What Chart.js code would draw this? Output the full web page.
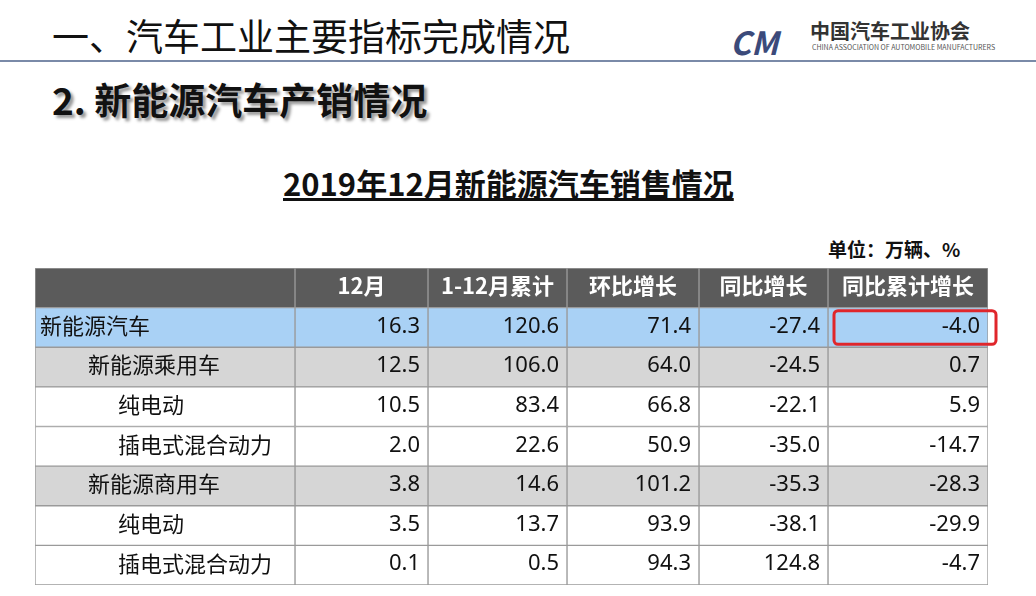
<!DOCTYPE html>
<html><head><meta charset="utf-8">
<script src="https://cdn.jsdelivr.net/npm/chart.js@4"></script>
<style>
body{margin:0;width:1036px;height:596px;background:#fff;overflow:hidden;font-family:"Noto Sans CJK SC","Noto Sans",sans-serif;position:relative}
.t{position:absolute;white-space:nowrap;color:#111}
#c{position:absolute;left:0;top:0}
</style></head><body>
<div class="t" style="left:52px;top:8px;font-size:37px;">一、汽车工业主要指标完成情况</div>
<div style="position:absolute;left:0;top:60px;width:1036px;height:2px;background:#7a8aa8"></div>
<div class="t" style="left:730px;top:18px;font-size:32px;font-weight:bold;color:#3b4a7a;font-style:italic;">CM</div>
<div class="t" style="left:810px;top:16px;font-size:20px;font-weight:bold;color:#333;">中国汽车工业协会</div>
<div class="t" style="left:812px;top:42px;font-size:7px;color:#555;">CHINA ASSOCIATION OF AUTOMOBILE MANUFACTURERS</div>
<div class="t" style="left:52px;top:72px;font-size:37px;font-weight:bold;text-shadow:3px 3px 3px #999;">2. 新能源汽车产销情况</div>
<div class="t" style="left:283px;top:160px;font-size:31px;font-weight:bold;text-decoration:underline;">2019年12月新能源汽车销售情况</div>
<div class="t" style="left:828px;top:235px;font-size:19px;font-weight:bold;">单位：万辆、%</div>
<canvas id="c" width="1036" height="596"></canvas>
<script>
const rowLabels = ['', '新能源汽车', '新能源乘用车', '纯电动', '插电式混合动力', '新能源商用车', '纯电动', '插电式混合动力'];
const colLabels = ['', '12月', '1-12月累计', '环比增长', '同比增长', '同比累计增长'];
const month12 = ['16.3', '12.5', '10.5', '2.0', '3.8', '3.5', '0.1'];
const cumulative = ['120.6', '106.0', '83.4', '22.6', '14.6', '13.7', '0.5'];
const momGrowth = ['71.4', '64.0', '66.8', '50.9', '101.2', '93.9', '94.3'];
const yoyGrowth = ['-27.4', '-24.5', '-22.1', '-35.0', '-35.3', '-38.1', '124.8'];
const yoyCumGrowth = ['-4.0', '0.7', '5.9', '-14.7', '-28.3', '-29.9', '-4.7'];

const colWidths = [260, 133, 139, 132, 129, 160];
const indents = [0, 5, 53, 83, 83, 53, 83, 83];
const valueCols = [month12, cumulative, momGrowth, yoyGrowth, yoyCumGrowth];

function rowColor(r) {
  if (r === 0) return '#5b5b5b';
  if (r === 1) return '#a9d1f5';
  if (r === 2 || r === 5) return '#d6d6d6';
  return '#ffffff';
}

const datasets = colWidths.map((w, ci) => ({
  data: rowLabels.map(() => w),
  backgroundColor: rowLabels.map((_, r) => rowColor(r)),
  borderColor: '#9a9a9a',
  borderWidth: 1,
  borderSkipped: false,
  barPercentage: 1,
  categoryPercentage: 1
}));

const textPlugin = {
  id: 'cellText',
  afterDatasetsDraw(chart) {
    const ctx = chart.ctx;
    ctx.save();
    ctx.textBaseline = 'middle';
    chart.data.datasets.forEach((ds, ci) => {
      chart.getDatasetMeta(ci).data.forEach((bar, r) => {
        const left = bar.base, right = bar.x, y = bar.y - 2;
        if (r === 0) {
          ctx.fillStyle = '#fff';
          ctx.font = 'bold 22px "Noto Sans CJK SC"';
          ctx.textAlign = 'center';
          ctx.fillText(colLabels[ci], (left + right) / 2, y);
        } else if (ci === 0) {
          ctx.fillStyle = '#111';
          ctx.font = '22px "Noto Sans CJK SC"';
          ctx.textAlign = 'left';
          ctx.fillText(rowLabels[r], left + indents[r], y);
        } else {
          ctx.fillStyle = '#111';
          ctx.font = '22px "Noto Sans","Noto Sans CJK SC"';
          ctx.textAlign = 'right';
          ctx.fillText(valueCols[ci - 1][r - 1], right - 8, y + 1);
        }
        if (r === 1 && ci === 5) {
          const h = bar.height;
          ctx.strokeStyle = '#e0262b';
          ctx.lineWidth = 3;
          ctx.beginPath();
          ctx.roundRect(left + 6, bar.y - h / 2 + 3, right - left + 2, h - 6, 4);
          ctx.stroke();
        }
      });
    });
    ctx.restore();
  }
};

new Chart(document.getElementById('c'), {
  type: 'bar',
  data: { labels: rowLabels.map((l, i) => i), datasets },
  options: {
    indexAxis: 'y',
    responsive: false,
    animation: false,
    layout: { padding: { left: 35, right: 48, top: 268, bottom: 11 } },
    plugins: { legend: { display: false }, tooltip: { enabled: false } },
    scales: {
      x: { stacked: true, min: 0, max: 953, display: false },
      y: { stacked: true, display: false }
    }
  },
  plugins: [textPlugin]
});
</script>
</body></html>
